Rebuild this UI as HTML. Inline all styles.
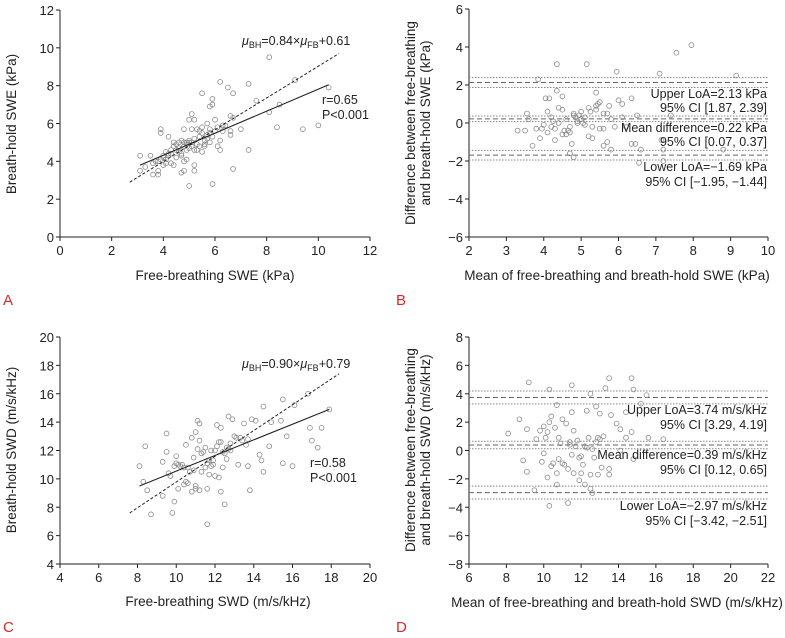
<!DOCTYPE html>
<html><head><meta charset="utf-8"><style>
html,body{margin:0;padding:0;background:#fff}
svg{display:block;font-family:"Liberation Sans",Arial,sans-serif}
</style></head><body>
<svg id="fig" width="785" height="638" viewBox="0 0 785 638" xmlns="http://www.w3.org/2000/svg"></svg>
<script>
// ---- Panel A data: free-breathing vs breath-hold SWE (kPa)
const aX=[8.1,9.1,10.4,6.2,7.3,6.5,6.7,5.5,5.9,5.8,5.9,7.6,8.5,8.1,6.6,6.7,7.0,8.4,9.4,10.0,7.3,6.7,5.9,5.0,3.1,3.1,3.3,3.5,3.6,3.8,3.8,3.9,3.9,4.2,5.1,5.0,5.2,6.0,4.8,4.7,4.8,5.2,5.2,4.0,4.4,4.8,4.0,4.1,4.2,4.3,4.4,4.5,4.6,4.7,4.8,4.9,5.0,5.1,5.2,5.3,5.4,5.5,5.6,5.7,5.8,4.1,4.3,4.5,4.6,4.7,4.9,5.0,5.1,5.3,5.4,5.6,5.7,5.8,6.1,6.2,6.3,6.4,6.6,3.7,3.9,4.0,4.2,4.4,4.6,4.8,5.0,5.2,5.4,5.5,5.6,5.9,6.1,6.2,4.5,4.7,4.9,5.3,5.5,5.7,6.0,3.6,3.8,4.1,4.3,4.9,5.1,5.8,6.6,6.3];
const aY=[9.5,8.3,7.9,8.2,8.1,7.9,7.6,7.6,7.3,6.9,7.0,7.2,7.0,6.6,6.4,6.3,5.7,5.8,5.7,5.9,4.6,3.6,2.8,2.7,4.3,3.5,3.7,4.3,3.3,3.3,3.5,5.7,5.5,5.3,6.5,6.2,6.2,6.2,5.7,3.4,3.5,3.8,3.5,3.8,3.8,4.0,4.2,4.5,4.3,4.6,4.8,4.6,5.0,5.1,4.8,4.9,5.1,5.0,5.2,4.9,5.3,5.5,5.1,5.4,5.7,4.1,4.4,4.2,4.5,4.4,4.6,4.7,4.8,4.6,4.8,4.9,5.2,5.0,5.8,5.1,5.6,5.9,5.4,4.0,4.1,4.3,4.4,5.0,4.7,5.0,5.0,4.6,5.6,4.5,4.8,5.3,4.8,4.6,4.9,4.3,4.1,5.7,5.8,6.0,5.6,3.9,4.0,3.9,3.9,5.0,5.7,5.5,5.6,5.9];
const aFitX=[3.1,10.4], aFitY=[3.8,8.05];
const aEqX=[2.7,10.8], aEqY=[2.9,9.7];
// ---- Panel B data: Bland-Altman SWE
const bX=[4.35,5.15,5.95,7.1,7.55,7.95,9.15,3.85,4.35,4.05,4.15,4.5,5.4,6.35,6.0,6.1,3.55,3.3,3.5,3.7,3.9,4.75,4.7,4.8,5.6,5.8,6.35,6.45,6.55,6.6,7.2,7.2,7.15,8.8,7.4,6.5,5.7,4.1,4.2,4.3,4.4,4.5,4.6,4.7,4.8,4.9,5.0,5.1,5.2,5.3,5.4,5.5,5.6,4.0,4.2,4.4,4.6,4.8,5.0,5.2,5.4,5.6,5.8,3.8,4.1,4.5,4.9,5.3,5.7,6.1,4.3,4.7,5.1,5.5,5.9,4.95,5.05,4.85,5.25,4.65,5.45,3.6,3.95,4.25,4.55,5.75,6.2];
const bY=[3.1,3.1,2.7,2.6,3.7,4.1,2.5,2.3,1.7,1.3,1.3,1.4,1.6,1.3,1.2,1.0,0.5,-0.4,-0.4,-1.2,-0.8,-1.1,-1.6,-1.8,-1.2,-1.4,-1.1,-1.1,-2.1,-1.4,-1.4,-2.0,-0.9,-1.4,0.4,0.4,-1.0,0.6,0.3,-0.3,0.8,0.7,0.2,-0.5,0.4,0.1,0.6,0.3,0.8,-0.2,0.7,1.1,0.5,-0.1,-0.2,0.0,-0.6,0.5,0.2,-0.7,0.9,-0.3,0.2,-0.3,-0.5,-0.6,0.0,-0.8,0.5,0.3,-0.9,-0.2,-0.1,-0.3,-0.2,0.4,0.0,0.3,0.6,-0.4,1.0,0.2,-0.3,0.1,-0.4,0.9,-0.2];
const bLines=[2.39,2.13,1.87,0.37,0.22,0.07,-1.44,-1.69,-1.95];
const bStyles=["dot","dash","dot","dot","dash","dot","dot","dash","dot"];
// ---- Panel C data: free-breathing vs breath-hold SWD
const cX=[8.1,8.3,8.4,8.5,8.7,9.3,9.3,9.5,9.5,9.8,9.9,11.6,12.5,13.8,12.3,16.8,15.5,16.1,14.5,17.9,15.4,14.9,13.9,14.1,16.9,17.5,15.7,17.0,17.3,14.8,14.3,14.4,15.5,16.0,13.7,14.5,11.1,11.2,12.7,12.9,12.1,9.6,9.9,10.0,10.1,10.3,10.5,10.6,10.8,10.9,11.0,11.2,11.3,11.5,11.6,11.8,11.9,12.0,12.2,12.3,12.4,12.6,12.8,13.0,13.2,13.4,13.5,13.7,10.2,10.4,10.7,11.0,11.4,11.7,12.0,12.5,12.8,13.1,13.6,10.5,10.9,11.3,11.8,12.2,12.6,9.7,10.0,10.4,10.8,11.1,11.5,11.9,12.3,12.7,13.3,10.6,11.2,11.7,12.1,11.6,12.4,10.1,11.0];
const cY=[10.9,9.8,12.3,9.2,7.5,8.8,11.2,13.2,11.9,7.6,8.4,6.8,8.2,9.2,9.1,16.0,15.6,15.2,15.1,14.9,14.1,14.0,14.2,14.1,13.6,13.6,13.0,12.7,12.2,12.3,11.7,11.3,11.1,10.9,10.9,10.5,14.1,13.9,14.4,14.2,13.8,10.4,10.9,11.6,9.3,11.0,12.4,10.8,12.9,11.5,9.3,12.7,10.5,12.2,11.1,12.0,11.3,10.2,12.6,13.6,11.9,11.4,12.5,13.0,11.0,12.7,13.9,12.8,10.9,9.6,10.5,9.5,11.9,11.3,12.0,11.8,12.0,12.9,12.4,9.8,10.6,11.8,10.9,10.1,12.2,10.2,11.1,10.8,9.1,12.1,10.8,11.0,12.6,12.1,12.9,9.7,9.2,10.3,12.3,9.3,10.8,11.0,13.3];
const cFitX=[8.1,17.9], cFitY=[9.5,14.9];
const cEqX=[7.6,18.4], cEqY=[7.6,17.4];
// ---- Panel D data: Bland-Altman SWD
const dX=[9.2,10.3,11.5,12.5,13.3,13.5,14.7,14.8,15.5,15.2,8.1,8.7,9.1,8.9,9.1,9.5,10.3,11.3,12.6,12.5,10.7,10.2,14.4,13.6,13.0,12.3,11.5,12.8,10.7,13.9,14.1,14.4,14.7,15.6,16.4,14.1,14.8,13.5,13.5,12.9,11.9,12.2,9.8,10.0,10.2,10.4,10.6,10.8,11.0,11.2,11.4,11.6,11.8,12.0,12.2,12.4,12.6,12.8,13.0,13.2,9.9,10.1,10.5,10.9,11.1,11.5,11.9,12.3,12.7,13.1,10.3,10.7,11.3,11.7,12.1,12.5,10.0,10.8,11.6,12.9,9.6,11.0,11.4,10.4,12.0];
const dY=[4.8,4.3,4.6,4.0,4.4,5.1,5.1,4.3,3.9,3.3,1.2,2.2,1.5,-0.7,-1.5,-2.8,-3.9,-3.7,-3.0,-2.7,-2.4,-1.9,2.7,2.5,2.6,2.8,2.7,3.1,3.2,1.9,1.5,0.9,1.3,0.9,0.8,0.0,-0.6,-1.3,-1.7,-1.7,-2.1,-2.4,1.4,1.7,1.3,2.4,1.6,0.9,2.2,1.9,0.4,1.4,0.7,-0.4,0.3,0.9,0.1,0.6,0.8,1.0,-0.8,0.9,-0.9,0.5,-1.0,-0.3,-0.5,0.2,-0.5,-1.2,2.0,-1.6,-1.3,0.3,-1.0,-1.7,-0.2,-0.6,-1.6,0.9,0.8,-0.9,0.6,-1.1,-1.6];
const dLines=[4.19,3.74,3.29,0.65,0.39,0.12,-2.51,-2.97,-3.42];
const dStyles=["dot","dash","dot","dot","dash","dot","dot","dash","dot"];

const NS="http://www.w3.org/2000/svg";
const fig=document.getElementById('fig');
function mk(tag,attrs,parent,text){const e=document.createElementNS(NS,tag);for(const k in attrs)e.setAttribute(k,attrs[k]);if(text!==undefined)e.textContent=text;(parent||fig).appendChild(e);return e;}

function panel(p){
  const g=mk('g',{});
  
  
  const sx=v=>p.x0+(v-p.xmin)/(p.xmax-p.xmin)*(p.x1-p.x0);
  const sy=v=>p.y0-(v-p.ymin)/(p.ymax-p.ymin)*(p.y0-p.y1);
  // axes
  const ax=mk('line',{x1:p.x0,y1:p.y0,x2:p.x1,y2:p.y0,stroke:'#222','stroke-width':1},g);
  
  const ay=mk('line',{x1:p.x0,y1:p.y0,x2:p.x0,y2:p.y1,stroke:'#222','stroke-width':1},g);
  
  for(let v=p.xmin;v<=p.xmax+1e-9;v+=p.xstep){
    mk('line',{x1:sx(v),y1:p.y0,x2:sx(v),y2:p.y0+4,stroke:'#222'},g);
    const t=mk('text',{x:sx(v),y:p.y0+18,'text-anchor':'middle','font-size':13,fill:'#222'},g,String(v));
    
  }
  for(let v=p.ymin;v<=p.ymax+1e-9;v+=p.ystep){
    mk('line',{x1:p.x0-4,y1:sy(v),x2:p.x0,y2:sy(v),stroke:'#222'},g);
    const t=mk('text',{x:p.x0-6,y:sy(v)+5,'text-anchor':'end','font-size':13,fill:'#222'},g,v<0?'\u2212'+(-v):String(v));
    
  }
  // horizontal lines (Bland-Altman)
  if(p.hl){p.hl.forEach((v,i)=>{
    const l=mk('line',{x1:p.x0,x2:p.x1,y1:sy(v),y2:sy(v),stroke:p.hs[i]=='dash'?'#666':'#888','stroke-width':1,'stroke-dasharray':p.hs[i]=='dash'?'5,3':'1.5,1.5'},g);
    
  });}
  // points
  p.px.forEach((v,i)=>{
    const c=mk('circle',{cx:sx(v),cy:sy(p.py[i]),r:2.4,fill:'none',stroke:'#8a8a8a','stroke-width':0.8},g);
    
  });
  if(p.fx){
    const l=mk('line',{x1:sx(p.fx[0]),y1:sy(p.fy[0]),x2:sx(p.fx[1]),y2:sy(p.fy[1]),stroke:'#222','stroke-width':1.1},g);
    
    const d=mk('line',{x1:sx(p.ex[0]),y1:sy(p.ey[0]),x2:sx(p.ex[1]),y2:sy(p.ey[1]),stroke:'#222','stroke-width':1,'stroke-dasharray':'3,2'},g);
    
  }
  // titles
  const xt=mk('text',{x:p.xtx,y:p.xty,'text-anchor':'middle','font-size':13.5,fill:'#222'},g,p.xtitle);
  
  p.ytitle.forEach((s,i)=>{
    const x=p.ytx+i*15;
    const yt=mk('text',{x:x,y:p.yty,'text-anchor':'middle','font-size':13.5,fill:'#222',transform:`rotate(-90 ${x} ${p.yty})`},g,s);
    
  });
  const lt=mk('text',{x:p.lx,y:p.ly,'font-size':15,fill:'#d42a2a'},g,p.letter);
  
  return g;
}

function ann(g,x,y,anchor,html,name){
  const t=mk('text',{x:x,y:y,'text-anchor':anchor,'font-size':12.5,fill:'#222'},g);
  t.innerHTML=html;
  
}
const eqA='<tspan font-style="italic">μ</tspan><tspan font-size="9" dy="3">BH</tspan><tspan dy="-3">=0.84×</tspan><tspan font-style="italic">μ</tspan><tspan font-size="9" dy="3">FB</tspan><tspan dy="-3">+0.61</tspan>';
const eqC='<tspan font-style="italic">μ</tspan><tspan font-size="9" dy="3">BH</tspan><tspan dy="-3">=0.90×</tspan><tspan font-style="italic">μ</tspan><tspan font-size="9" dy="3">FB</tspan><tspan dy="-3">+0.79</tspan>';

const gA=panel({name:'panel-a',x0:60,x1:370,y0:237,y1:10,xmin:0,xmax:12,xstep:2,ymin:0,ymax:12,ystep:2,px:aX,py:aY,fx:aFitX,fy:aFitY,ex:aEqX,ey:aEqY,xtitle:'Free-breathing SWE (kPa)',xtx:215,xty:280,ytitle:['Breath-hold SWE (kPa)'],ytx:16,yty:124,letter:'A',lx:3,ly:305});
ann(gA,242,45,'start',eqA,'equation-label');
ann(gA,322,104,'start','r=0.65','r-label');
ann(gA,322,119,'start','P&lt;0.001','p-label');

const gB=panel({name:'panel-b',x0:469,x1:768,y0:237,y1:9,xmin:2,xmax:10,xstep:1,ymin:-6,ymax:6,ystep:2,px:bX,py:bY,hl:bLines,hs:bStyles,xtitle:'Mean of free-breathing and breath-hold SWE (kPa)',xtx:617,xty:280,ytitle:['Difference between free-breathing','and breath-hold SWE (kPa)'],ytx:415,yty:123,letter:'B',lx:396,ly:305});
ann(gB,767,98,'end','Upper LoA=2.13 kPa','upper-loa-label');
ann(gB,767,112,'end','95% CI [1.87, 2.39]','upper-ci-label');
ann(gB,767,132,'end','Mean difference=0.22 kPa','mean-diff-label');
ann(gB,767,146,'end','95% CI [0.07, 0.37]','mean-ci-label');
ann(gB,767,171,'end','Lower LoA=\u22121.69 kPa','lower-loa-label');
ann(gB,767,186,'end','95% CI [\u22121.95, \u22121.44]','lower-ci-label');

const gC=panel({name:'panel-c',x0:60,x1:370,y0:564,y1:337,xmin:4,xmax:20,xstep:2,ymin:4,ymax:20,ystep:2,px:cX,py:cY,fx:cFitX,fy:cFitY,ex:cEqX,ey:cEqY,xtitle:'Free-breathing SWD (m/s/kHz)',xtx:218,xty:606,ytitle:['Breath-hold SWD (m/s/kHz)'],ytx:16,yty:450,letter:'C',lx:3,ly:632});
ann(gC,242,368,'start',eqC,'equation-label');
ann(gC,310,467,'start','r=0.58','r-label');
ann(gC,310,482,'start','P&lt;0.001','p-label');

const gD=panel({name:'panel-d',x0:469,x1:768,y0:564,y1:337,xmin:6,xmax:22,xstep:2,ymin:-8,ymax:8,ystep:2,px:dX,py:dY,hl:dLines,hs:dStyles,xtitle:'Mean of free-breathing and breath-hold SWD (m/s/kHz)',xtx:617,xty:607,ytitle:['Difference between free-breathing','and breath-hold SWD (m/s/kHz)'],ytx:415,yty:450,letter:'D',lx:396,ly:632});
ann(gD,767,414,'end','Upper LoA=3.74 m/s/kHz','upper-loa-label');
ann(gD,767,429,'end','95% CI [3.29, 4.19]','upper-ci-label');
ann(gD,767,459,'end','Mean difference=0.39 m/s/kHz','mean-diff-label');
ann(gD,767,474,'end','95% CI [0.12, 0.65]','mean-ci-label');
ann(gD,767,510,'end','Lower LoA=\u22122.97 m/s/kHz','lower-loa-label');
ann(gD,767,525,'end','95% CI [\u22123.42, \u22122.51]','lower-ci-label');
</script>
</body></html>
